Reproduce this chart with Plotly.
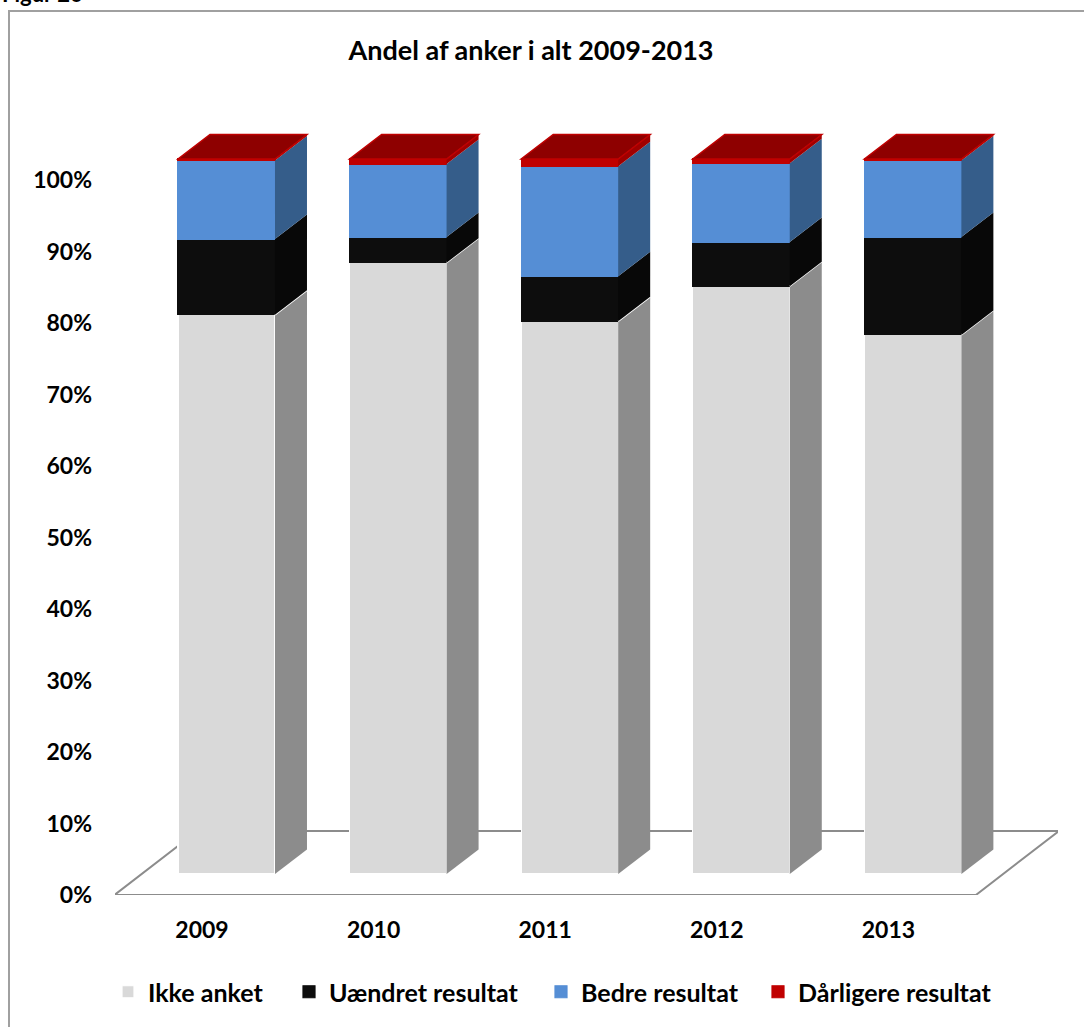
import plotly.graph_objects as go

# ---- data (shares in %) ----
years = ["2009", "2010", "2011", "2012", "2013"]
ikke_anket = [78.2, 85.5, 77.3, 82.2, 75.4]
uaendret = [10.6, 3.6, 6.3, 6.2, 13.7]
bedre = [11.0, 10.2, 15.4, 11.0, 10.7]
daarligere = [0.2, 0.7, 1.0, 0.6, 0.2]

series_names = ["Ikke anket", "Uændret resultat", "Bedre resultat", "Dårligere resultat"]
series_values = [ikke_anket, uaendret, bedre, daarligere]
y_ticks = [0, 10, 20, 30, 40, 50, 60, 70, 80, 90, 100]
y_tick_text = [f"{v}%" for v in y_ticks]

# ---- styles ----
front_colors = ["#d9d9d9", "#0d0d0d", "#558ed5", "#c00000"]
front_lines = ["#ffffff", "#0d0d0d", "#558ed5", "#c00000"]
side_colors = ["#8c8c8c", "#080808", "#355d8a", "#a00000"]
top_color = "#8e0000"
top_line = "#c00000"
floor_line = "#8c8c8c"
FONT = "Lato"

# ---- page / projection geometry (pixels) ----
W, H = 1084, 1027
ML, MR, MT, MB = 115, 26, 100, 132
plot_w, plot_h = W - ML - MR, H - MT - MB
PX_PER_CAT = 171.6          # distance between neighbouring columns
PX_PER_PCT = 7.15           # one percentage point
FIRST_COL_PX = 202          # first column centre, projected on the floor front
BAR_SHIFT_PX = (24.5, 21)   # columns sit this far back from the floor front
BAR_DEPTH_PX = (32, 24.5)   # depth of each column
FLOOR_DEPTH_PX = (83, 64)   # depth of the floor
BAR_W = 0.565               # column width in category units
FLOOR_HALF = 2.51           # floor half-width in category units
LEGEND_ITEM_PX = [116, 297, 549, 766]   # left edge of each legend entry
LEGEND_Y_PX = 992


def ux(px):
    return px / PX_PER_CAT


def uy(px):
    return px / PX_PER_PCT


def px_to_paper_x(px):
    return (px - ML) / plot_w


def px_to_paper_y(py):
    return (H - MB - py) / plot_h


x_range = [ux(ML - FIRST_COL_PX), ux(W - MR - FIRST_COL_PX)]
y_range = [0, uy(plot_h)]
sx, sy = ux(BAR_SHIFT_PX[0]), uy(BAR_SHIFT_PX[1])
dx, dy = ux(BAR_DEPTH_PX[0]), uy(BAR_DEPTH_PX[1])
fdx, fdy = ux(FLOOR_DEPTH_PX[0]), uy(FLOOR_DEPTH_PX[1])

cats = list(range(len(years)))
centre = (cats[0] + cats[-1]) / 2

fig = go.Figure()

# floor (front plane frame x / y)
fx0, fx1 = centre - FLOOR_HALF, centre + FLOOR_HALF
fig.add_trace(go.Scatter(
    x=[fx0, fx1, fx1 + fdx, fx0 + fdx, fx0],
    y=[0, 0, fdy, fdy, 0],
    mode="lines", fill="toself", fillcolor="#ffffff",
    line=dict(color=floor_line, width=2),
    xaxis="x", yaxis="y", showlegend=False, hoverinfo="skip",
))

# stacked columns (front faces) in the column frame x2 / y2
legend_ids = ["legend", "legend2", "legend3", "legend4"]
for name, vals, fc, lc, lg in zip(series_names, series_values, front_colors, front_lines, legend_ids):
    fig.add_trace(go.Bar(
        x=cats, y=vals, name=name, width=BAR_W,
        marker=dict(color=fc, line=dict(color=lc, width=1.2)),
        xaxis="x2", yaxis="y2", legend=lg,
    ))

# side and top faces of the columns
shapes = []
for i in cats:
    xl, xr = i - BAR_W / 2, i + BAR_W / 2
    base = 0.0
    for k, vals in enumerate(series_values):
        b, t = base, base + vals[i]
        shapes.append(dict(
            type="path", xref="x2", yref="y2", layer="above",
            path=f"M{xr},{b} L{xr},{t} L{xr + dx},{t + dy} L{xr + dx},{b + dy} Z",
            fillcolor=side_colors[k], line=dict(width=0),
        ))
        if k == 0:
            shapes.append(dict(
                type="line", xref="x2", yref="y2", layer="above",
                x0=xr, y0=t, x1=xr + dx, y1=t + dy,
                line=dict(color="#ffffff", width=1.5),
            ))
        base = t
    shapes.append(dict(
        type="path", xref="x2", yref="y2", layer="above",
        path=f"M{xl},{base} L{xr},{base} L{xr + dx},{base + dy} L{xl + dx},{base + dy} Z",
        fillcolor=top_color, line=dict(color=top_line, width=1.5),
    ))

# chart frame (left and top edges are within the page)
shapes.append(dict(
    type="rect", xref="paper", yref="paper", layer="above",
    x0=px_to_paper_x(9), x1=px_to_paper_x(1100),
    y0=px_to_paper_y(11), y1=px_to_paper_y(1045),
    line=dict(color="#a0a0a0", width=2), fillcolor="rgba(0,0,0,0)",
))

legend_font = dict(family=FONT, size=25, color="#000000", weight="bold")
legend_layout = {}
for lg, lx in zip(legend_ids, LEGEND_ITEM_PX):
    legend_layout[lg] = dict(
        orientation="h", x=px_to_paper_x(lx), xanchor="left",
        y=px_to_paper_y(LEGEND_Y_PX), yanchor="middle",
        font=legend_font, itemwidth=30, indentation=-8,
        bgcolor="rgba(0,0,0,0)", borderwidth=0,
    )

fig.update_layout(
    width=W, height=H, autosize=False,
    margin=dict(l=ML, r=MR, t=MT, b=MB, pad=0),
    paper_bgcolor="#ffffff", plot_bgcolor="rgba(0,0,0,0)",
    barmode="stack",
    font=dict(family=FONT, color="#000000", size=23, weight="bold"),
    title=dict(
        text="Andel af anker i alt 2009-2013",
        x=531 / W, y=1 - 51 / H, xref="container", yref="container",
        xanchor="center", yanchor="middle",
        font=dict(family=FONT, size=27, color="#000000", weight="bold"),
    ),
    xaxis=dict(
        range=x_range, tickvals=cats, ticktext=years,
        showgrid=False, zeroline=False, showline=False, ticks="",
        ticklabelstandoff=19, fixedrange=True,
        tickfont=dict(family=FONT, size=23, color="#000000", weight="bold"),
    ),
    yaxis=dict(
        range=y_range, tickvals=y_ticks, ticktext=y_tick_text,
        showgrid=False, zeroline=False, showline=False, ticks="",
        ticklabelstandoff=22, fixedrange=True,
        tickfont=dict(family=FONT, size=23, color="#000000", weight="bold"),
    ),
    xaxis2=dict(
        range=[x_range[0] - sx, x_range[1] - sx], overlaying="x", anchor="y2",
        visible=False, fixedrange=True,
    ),
    yaxis2=dict(
        range=[y_range[0] - sy, y_range[1] - sy], overlaying="y",
        visible=False, fixedrange=True,
    ),
    shapes=shapes,
    annotations=[dict(
        text="Figur 26", xref="paper", yref="paper",
        x=px_to_paper_x(0), y=px_to_paper_y(9),
        xanchor="left", yanchor="bottom", showarrow=False,
        font=dict(family=FONT, size=22, color="#000000", weight="bold"),
    )],
    **legend_layout,
)

fig.write_html("out.html")
